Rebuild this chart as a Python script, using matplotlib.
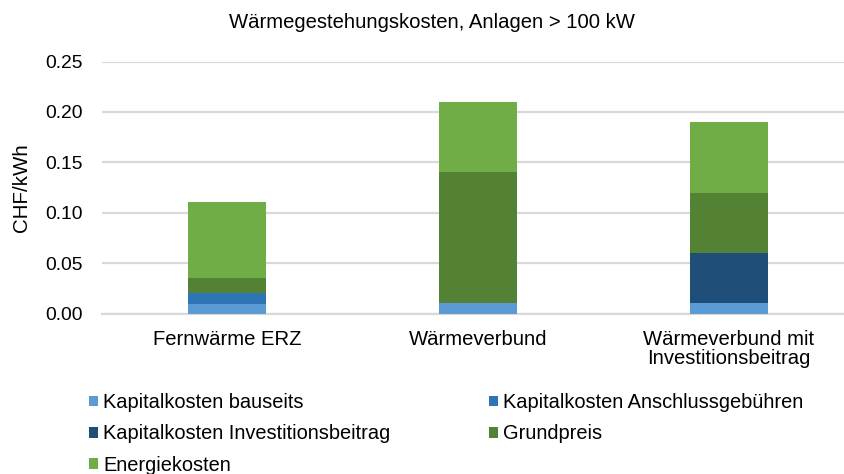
import matplotlib
matplotlib.use("Agg")
import matplotlib.pyplot as plt
from matplotlib.patches import Patch

plt.rcParams['font.family'] = ['Liberation Sans', 'DejaVu Sans']

categories = ["Fernwärme ERZ", "Wärmeverbund", "Wärmeverbund mit\nInvestitionsbeitrag"]
series_names = ["Kapitalkosten bauseits", "Kapitalkosten Anschlussgebühren",
                "Kapitalkosten Investitionsbeitrag", "Grundpreis", "Energiekosten"]
kap_bauseits = [0.009, 0.010, 0.010]
kap_anschluss = [0.011, 0.0, 0.0]
kap_invest = [0.0, 0.0, 0.050]
grundpreis = [0.015, 0.130, 0.060]
energiekosten = [0.076, 0.070, 0.070]
colors = ["#5B9BD5", "#2E75B6", "#1F4E79", "#548235", "#70AD47"]
yticks = [0.00, 0.05, 0.10, 0.15, 0.20, 0.25]

series = [kap_bauseits, kap_anschluss, kap_invest, grundpreis, energiekosten]

W, H = 844, 474
fig = plt.figure(figsize=(W / 100, H / 100), dpi=100)
left, right = 102, 844
bottom, top = 313.5, 61.5
ax = fig.add_axes([left / W, 1 - bottom / H, (right - left) / W, (bottom - top) / H])

x = list(range(len(categories)))
base = [0.0] * len(categories)
for vals, c in zip(series, colors):
    ax.bar(x, vals, width=0.31, bottom=base, color=c, edgecolor='none', zorder=3)
    base = [b + v for b, v in zip(base, vals)]

ax.set_xlim(-0.498, 2.458)
ax.set_ylim(0, 0.25)
ax.set_yticks(yticks)
ax.set_yticklabels([f"{t:.2f}" for t in yticks], fontsize=13.9)
ax.set_xticks(x)
ax.set_xticklabels(categories, fontsize=14.6, linespacing=1.0)
ax.tick_params(axis='both', length=0, colors='#000000')
ax.tick_params(axis='y', pad=14)
ax.tick_params(axis='x', pad=12)
ax.yaxis.grid(True, color='#D9D9D9', linewidth=1.6, zorder=0)
for s in ['top', 'right', 'left']:
    ax.spines[s].set_visible(False)
ax.spines['bottom'].set_color('#D9D9D9')
ax.spines['bottom'].set_linewidth(1.6)
ax.set_ylabel("CHF/kWh", fontsize=14.8, labelpad=10)

fig.text(432 / W, 1 - 22 / H, "Wärmegestehungskosten, Anlagen > 100 kW",
         ha='center', va='center', fontsize=14.6)

order = [0, 2, 4, 1, 3]
handles = [Patch(facecolor=colors[i], edgecolor='none') for i in order]
labels = [series_names[i] for i in order]
fig.legend(handles, labels, loc='upper left', bbox_to_anchor=(89 / W, 1 - 393 / H),
           ncol=2, frameon=False, fontsize=14.4, handlelength=0.45, handleheight=0.45,
           handletextpad=0.25, columnspacing=4.95, labelspacing=0.62, borderpad=0,
           borderaxespad=0)

fig.savefig("out.png", dpi=100)
